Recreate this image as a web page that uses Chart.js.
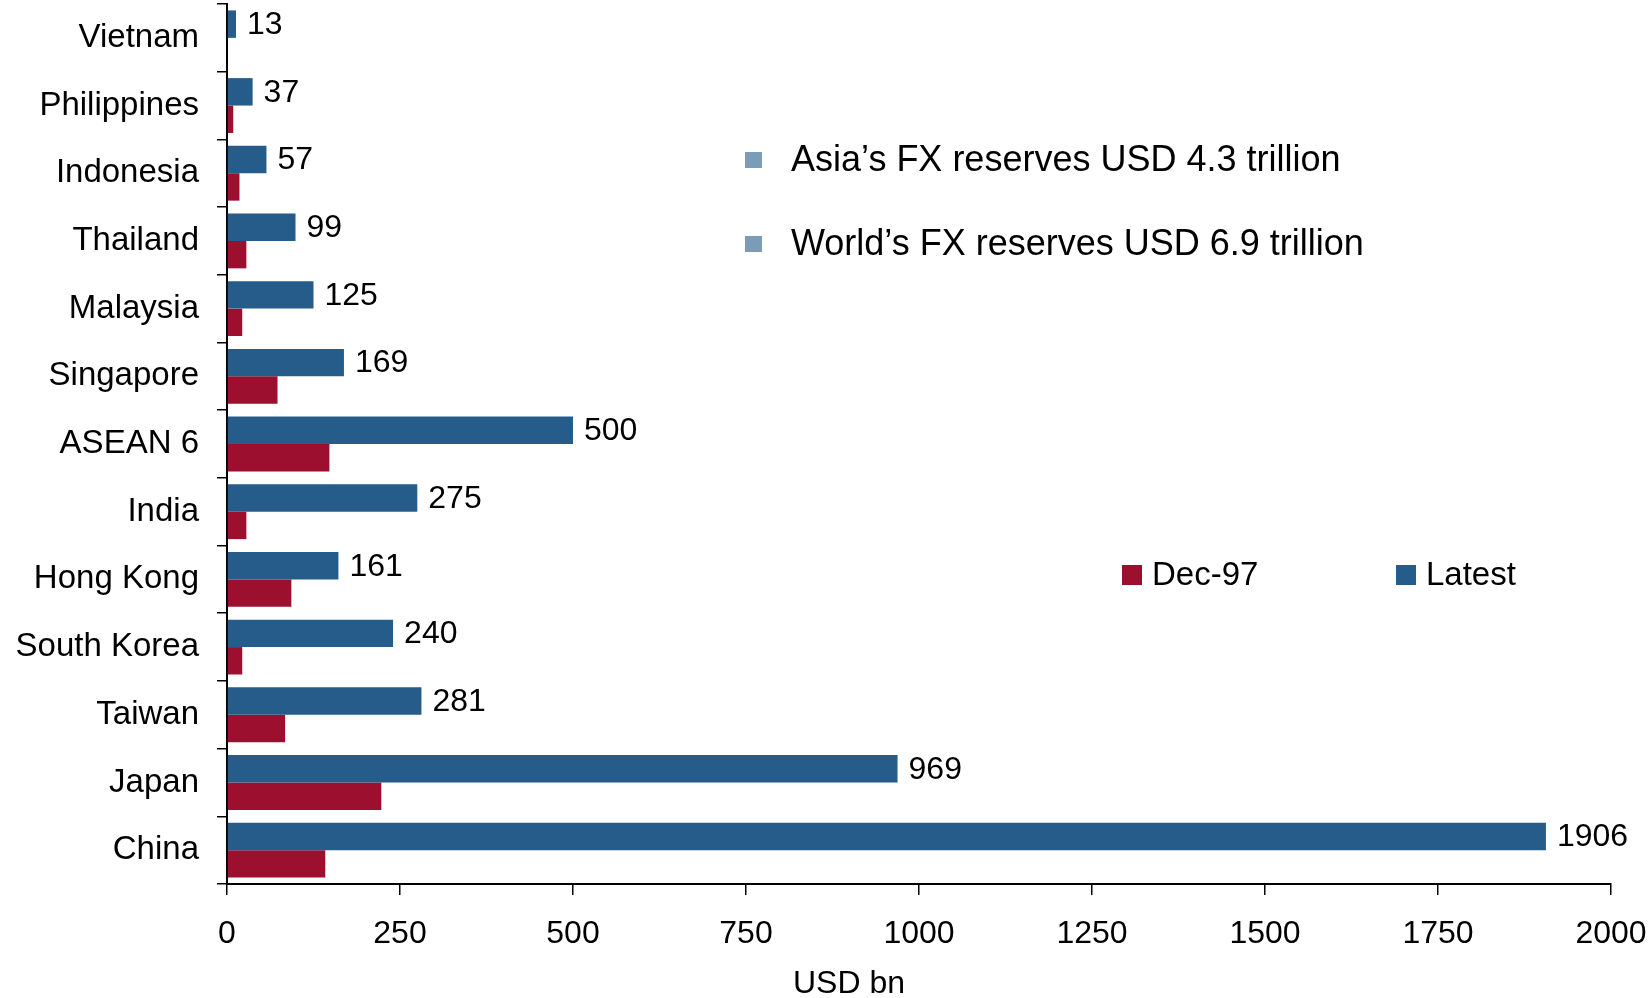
<!DOCTYPE html>
<html>
<head>
<meta charset="utf-8">
<script src="https://cdn.jsdelivr.net/npm/chart.js@4/dist/chart.umd.min.js"></script>
<style>
  html, body { margin: 0; padding: 0; background: #fff; }
  #wrap { width: 1650px; height: 998px; }
</style>
</head>
<body>
<div id="wrap"><canvas id="fxChart" width="1650" height="998"></canvas></div>
<script>
var countries = ['Vietnam', 'Philippines', 'Indonesia', 'Thailand', 'Malaysia', 'Singapore',
  'ASEAN 6', 'India', 'Hong Kong', 'South Korea', 'Taiwan', 'Japan', 'China'];
var latest = [13, 37, 57, 99, 125, 169, 500, 275, 161, 240, 281, 969, 1906];
var dec97 = [null, 9, 18, 28, 22, 73, 148, 28, 93, 22, 84, 223, 142];
var notes = ['Asia\u2019s FX reserves USD 4.3 trillion', 'World\u2019s FX reserves USD 6.9 trillion'];
var axisTitle = 'USD bn';

var FONT = '"Liberation Sans", Arial, sans-serif';
var BLUE = '#255c89';
var RED = '#9c0f2e';
var NOTE_SQ = '#7b9bb6';

// value labels at the end of the blue bars
var barLabels = {
  id: 'barLabels',
  afterDatasetsDraw: function (chart) {
    var ctx = chart.ctx;
    var meta = chart.getDatasetMeta(0);
    ctx.save();
    ctx.font = '32px ' + FONT;
    ctx.fillStyle = '#000';
    ctx.textAlign = 'left';
    ctx.textBaseline = 'middle';
    meta.data.forEach(function (bar, i) {
      ctx.fillText(String(latest[i]), bar.x + 11, bar.y + 1);
    });
    ctx.restore();
  }
};

// text notes, axis title and the series legend
var extras = {
  id: 'extras',
  afterDraw: function (chart) {
    var ctx = chart.ctx;
    ctx.save();
    ctx.textBaseline = 'middle';
    ctx.textAlign = 'left';
    ctx.fillStyle = '#000';

    ctx.font = '36px ' + FONT;
    var noteY = [160, 244];
    notes.forEach(function (t, i) {
      ctx.fillStyle = NOTE_SQ;
      ctx.fillRect(745, noteY[i] - 8, 17, 16);
      ctx.fillStyle = '#000';
      ctx.fillText(t, 791, noteY[i] + 1);
    });

    ctx.font = '33px ' + FONT;
    var items = [
      { text: 'Dec-97', color: RED, x: 1122 },
      { text: 'Latest', color: BLUE, x: 1396 }
    ];
    items.forEach(function (it) {
      ctx.fillStyle = it.color;
      ctx.fillRect(it.x, 565, 20, 20);
      ctx.fillStyle = '#000';
      ctx.fillText(it.text, it.x + 30, 576);
    });

    // axis title sits left of centre in the original
    ctx.font = '32px ' + FONT;
    ctx.textAlign = 'center';
    ctx.fillText(axisTitle, 849, 984);
    ctx.restore();
  }
};

window.onload = function () {
  var config = {
    type: 'bar',
    data: {
      labels: countries,
      datasets: [{
        label: 'Latest',
        data: latest,
        backgroundColor: BLUE,
        borderWidth: 0
      }, {
        label: 'Dec-97',
        data: dec97,
        backgroundColor: RED,
        borderWidth: 0
      }]
    },
    options: {
      indexAxis: 'y',
      responsive: false,
      animation: false,
      categoryPercentage: 0.81,
      barPercentage: 1.0,
      layout: { padding: { top: 4, right: 39, left: 0, bottom: 0 } },
      plugins: {
        legend: { display: false },
        tooltip: { enabled: false }
      },
      scales: {
        x: {
          min: 0,
          max: 2000,
          ticks: {
            stepSize: 250,
            color: '#000',
            font: { family: FONT, size: 32 },
            padding: 20,
            maxRotation: 0,
            callback: function (v) { return String(v); }
          },
          grid: {
            drawOnChartArea: false,
            drawTicks: true,
            tickLength: 11,
            color: '#000',
            lineWidth: 1.5
          },
          border: { color: '#000', width: 2 },
          afterFit: function (axis) {
            axis.height = 114;
            axis.paddingLeft = 0;
            axis.paddingRight = 0;
          }
        },
        y: {
          ticks: {
            color: '#000',
            font: { family: FONT, size: 33 },
            padding: 18
          },
          grid: {
            drawOnChartArea: false,
            drawTicks: true,
            tickLength: 10,
            offset: true,
            color: '#000',
            lineWidth: 1.5
          },
          border: { color: '#000', width: 2 },
          afterFit: function (axis) {
            axis.width = 227;
            axis.paddingTop = 0;
            axis.paddingBottom = 0;
          }
        }
      }
    },
    plugins: [barLabels, extras]
  };

  var ctx = document.getElementById('fxChart').getContext('2d');
  window.fxChart = new Chart(ctx, config);
};
</script>
</body>
</html>
